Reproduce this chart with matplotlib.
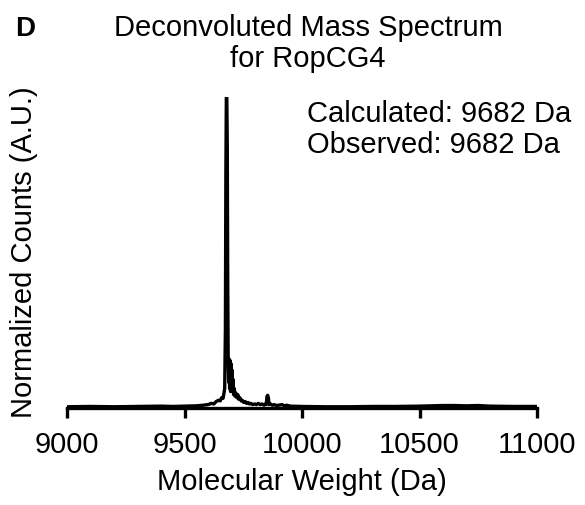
import matplotlib
matplotlib.use("Agg")
import matplotlib.pyplot as plt

plt.rcParams['font.family'] = ['Liberation Sans', 'DejaVu Sans']

# deconvoluted spectrum, mass (Da) vs normalized counts
mass = [9000, 9100, 9200, 9300, 9400, 9450, 9500, 9550, 9580, 9600,
        9615, 9625, 9635, 9645, 9652, 9658, 9664, 9668, 9671, 9674,
        9676, 9678, 9680, 9682, 9684, 9686, 9688, 9690, 9692, 9694,
        9696, 9698, 9700, 9702, 9704, 9706, 9709, 9712, 9715, 9719,
        9723, 9727, 9731, 9736, 9741, 9746, 9752, 9758, 9764, 9770,
        9776, 9782, 9790, 9798, 9806, 9814, 9822, 9830, 9838, 9844,
        9848, 9851, 9854, 9857, 9860, 9866, 9874, 9882, 9890, 9900,
        9915, 9925, 9935, 9950, 10000, 10100, 10200, 10300, 10400, 10500,
        10550, 10600, 10650, 10700, 10750, 10800, 10900, 11000]
counts = [0.001, 0.002, 0.001, 0.002, 0.003, 0.002, 0.003, 0.004, 0.006, 0.008,
          0.012, 0.010, 0.018, 0.022, 0.020, 0.030, 0.028, 0.045, 0.060, 0.25,
          0.75, 1.00, 1.00, 0.85, 0.40, 0.15, 0.08, 0.155, 0.06, 0.15,
          0.05, 0.14, 0.06, 0.12, 0.05, 0.09, 0.04, 0.06, 0.035, 0.045,
          0.030, 0.040, 0.025, 0.030, 0.020, 0.022, 0.015, 0.018, 0.012, 0.015,
          0.010, 0.012, 0.008, 0.010, 0.008, 0.012, 0.008, 0.010, 0.006, 0.010,
          0.008, 0.035, 0.038, 0.030, 0.008, 0.010, 0.006, 0.008, 0.005, 0.006,
          0.008, 0.004, 0.006, 0.003, 0.002, 0.001, 0.001, 0.002, 0.002, 0.003,
          0.004, 0.005, 0.005, 0.004, 0.005, 0.003, 0.002, 0.002]

xticks = [9000, 9500, 10000, 10500, 11000]
title_lines = ["Deconvoluted Mass Spectrum", "for RopCG4"]
info_lines = ["Calculated: 9682 Da", "Observed: 9682 Da"]

W, H = 585, 505
fs = 21
fig = plt.figure(figsize=(W / 100, H / 100), dpi=100)
ax = fig.add_axes([67 / W, 1 - 408 / H, 470 / W, 311 / H])

ax.plot(mass, counts, color='black', linewidth=2.4)
ax.set_xlim(9000, 11000)
ax.set_ylim(-0.003, 1.0)

for s in ['left', 'right', 'top']:
    ax.spines[s].set_visible(False)
ax.spines['bottom'].set_linewidth(2.4)
ax.set_yticks([])
ax.set_xticks(xticks)
ax.set_xticklabels([str(t) for t in xticks])
ax.tick_params(axis='x', direction='out', length=7.5, width=2.4, pad=9,
               labelsize=fs)

ax.set_xlabel("Molecular Weight (Da)", fontsize=fs)
ax.xaxis.set_label_coords(0.5, -(468 - 408) / 311)
ax.set_ylabel("Normalized Counts (A.U.)", fontsize=fs)
ax.yaxis.set_label_coords(-(67 - 38) / 470, 0.5)

# two-line title
cx = 308 / W
fig.text(cx, 1 - 36 / H, title_lines[0], ha='center', va='baseline', fontsize=fs)
fig.text(cx, 1 - 67 / H, title_lines[1], ha='center', va='baseline', fontsize=fs)

fig.text(15 / W, 1 - 36 / H, "D", ha='left', va='baseline', fontsize=20,
         fontweight='bold')

fig.text(307 / W, 1 - 122 / H, info_lines[0], ha='left', va='baseline', fontsize=fs)
fig.text(307 / W, 1 - 153 / H, info_lines[1], ha='left', va='baseline', fontsize=fs)

fig.savefig("out.png", dpi=100)
